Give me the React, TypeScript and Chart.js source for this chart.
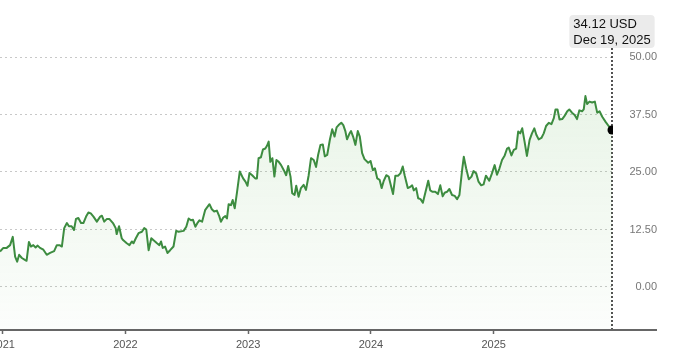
import { useEffect, useRef } from "react";
import { Chart, registerables } from "chart.js";

Chart.register(...registerables);

const dates = [
  "2020-12-24", "2021-01-03", "2021-01-13", "2021-01-23", "2021-01-31", "2021-02-07", "2021-02-13", "2021-02-19",
  "2021-02-27", "2021-03-08", "2021-03-13", "2021-03-20", "2021-03-26", "2021-04-02", "2021-04-09", "2021-04-15",
  "2021-04-22", "2021-05-02", "2021-05-12", "2021-05-22", "2021-06-03", "2021-06-11", "2021-06-19", "2021-06-26",
  "2021-07-03", "2021-07-11", "2021-07-17", "2021-07-25", "2021-08-01", "2021-08-07", "2021-08-14", "2021-08-22",
  "2021-08-29", "2021-09-06", "2021-09-13", "2021-09-20", "2021-09-28", "2021-10-08", "2021-10-18", "2021-10-23",
  "2021-10-30", "2021-11-07", "2021-11-14", "2021-11-25", "2021-12-03", "2021-12-06", "2021-12-13", "2021-12-21",
  "2021-12-25", "2022-01-05", "2022-01-13", "2022-01-20", "2022-01-25", "2022-02-01", "2022-02-09", "2022-02-19",
  "2022-02-26", "2022-03-04", "2022-03-11", "2022-03-19", "2022-03-25", "2022-04-05", "2022-04-12", "2022-04-17",
  "2022-04-22", "2022-04-29", "2022-05-06", "2022-05-14", "2022-05-24", "2022-06-01", "2022-06-08", "2022-06-23",
  "2022-07-01", "2022-07-08", "2022-07-15", "2022-07-21", "2022-07-28", "2022-08-04", "2022-08-09", "2022-08-17",
  "2022-08-26", "2022-09-02", "2022-09-08", "2022-09-15", "2022-09-22", "2022-09-30", "2022-10-07", "2022-10-12",
  "2022-10-19", "2022-10-25", "2022-10-30", "2022-11-04", "2022-11-11", "2022-11-16", "2022-11-22", "2022-11-29",
  "2022-12-07", "2022-12-17", "2022-12-24", "2022-12-30", "2023-01-05", "2023-01-13", "2023-01-22", "2023-01-27",
  "2023-02-01", "2023-02-08", "2023-02-14", "2023-02-21", "2023-02-26", "2023-03-03", "2023-03-08", "2023-03-14",
  "2023-03-20", "2023-03-26", "2023-04-02", "2023-04-09", "2023-04-17", "2023-04-24", "2023-04-30", "2023-05-07",
  "2023-05-12", "2023-05-19", "2023-05-24", "2023-05-31", "2023-06-07", "2023-06-15", "2023-06-22", "2023-06-30",
  "2023-07-07", "2023-07-15", "2023-07-22", "2023-07-28", "2023-08-04", "2023-08-11", "2023-08-17", "2023-08-24",
  "2023-09-01", "2023-09-08", "2023-09-15", "2023-09-21", "2023-09-27", "2023-10-05", "2023-10-11", "2023-10-17",
  "2023-10-22", "2023-10-29", "2023-11-03", "2023-11-09", "2023-11-16", "2023-11-23", "2023-11-29", "2023-12-06",
  "2023-12-13", "2023-12-24", "2023-12-31", "2024-01-07", "2024-01-13", "2024-01-20", "2024-01-27", "2024-02-02",
  "2024-02-08", "2024-02-16", "2024-02-23", "2024-03-02", "2024-03-07", "2024-03-14", "2024-03-22", "2024-03-29",
  "2024-04-05", "2024-04-11", "2024-04-20", "2024-04-26", "2024-05-03", "2024-05-08", "2024-05-15", "2024-05-21",
  "2024-05-28", "2024-06-04", "2024-06-12", "2024-06-20", "2024-06-26", "2024-07-03", "2024-07-11", "2024-07-19",
  "2024-07-26", "2024-08-02", "2024-08-08", "2024-08-15", "2024-08-22", "2024-08-30", "2024-09-07", "2024-09-14",
  "2024-09-21", "2024-09-29", "2024-10-04", "2024-10-11", "2024-10-19", "2024-10-27", "2024-11-02", "2024-11-10",
  "2024-11-17", "2024-11-25", "2024-12-02", "2024-12-09", "2024-12-19", "2024-12-27", "2025-01-04", "2025-01-11",
  "2025-01-18", "2025-01-26", "2025-02-03", "2025-02-10", "2025-02-15", "2025-02-23", "2025-03-02", "2025-03-09",
  "2025-03-15", "2025-03-21", "2025-03-27", "2025-04-03", "2025-04-10", "2025-04-18", "2025-04-25", "2025-05-02",
  "2025-05-08", "2025-05-15", "2025-05-23", "2025-05-30", "2025-06-06", "2025-06-14", "2025-06-22", "2025-06-29",
  "2025-07-04", "2025-07-10", "2025-07-16", "2025-07-24", "2025-07-31", "2025-08-08", "2025-08-14", "2025-08-22",
  "2025-08-30", "2025-09-06", "2025-09-13", "2025-09-21", "2025-09-26", "2025-10-01", "2025-10-06", "2025-10-13",
  "2025-10-21", "2025-10-29", "2025-11-05", "2025-11-12", "2025-11-20", "2025-11-30", "2025-12-09", "2025-12-19",
];

const prices = [
  7.7, 8.5, 8.5, 9.1, 10.9, 6.6, 5.5, 7.0,
  6.3, 5.9, 5.7, 9.8, 8.8, 9.1, 8.6, 9.0,
  8.5, 8.1, 7.0, 7.4, 7.8, 9.1, 9.1, 8.8,
  12.8, 13.9, 13.2, 13.2, 12.4, 14.8, 15.0, 13.9,
  13.9, 15.3, 16.2, 16.0, 15.3, 14.2, 15.3, 15.5,
  14.2, 14.8, 14.8, 13.9, 12.8, 11.5, 13.2, 10.6,
  10.2, 9.5, 9.1, 9.9, 9.5, 10.6, 11.7, 12.0,
  12.8, 12.5, 8.0, 10.6, 10.2, 9.5, 9.1, 9.9,
  8.5, 8.8, 7.4, 8.0, 8.8, 12.2, 12.0, 12.2,
  13.1, 14.9, 14.5, 14.6, 13.1, 14.0, 14.5, 14.2,
  16.7, 17.4, 18.0, 16.9, 16.4, 16.6, 15.4, 14.2,
  15.1, 15.4, 14.9, 18.0, 17.8, 18.9, 17.1, 20.7,
  25.1, 23.6, 22.9, 22.0, 24.8, 24.3, 23.6, 23.6,
  28.0, 28.2, 29.9, 30.1, 30.7, 31.6, 27.2, 28.0,
  24.0, 27.6, 27.2, 26.5, 25.4, 24.3, 26.3, 24.0,
  20.4, 20.0, 22.0, 19.6, 21.5, 22.2, 21.1, 24.3,
  28.0, 27.6, 26.1, 28.7, 30.9, 31.0, 28.4, 28.7,
  32.0, 34.3, 32.7, 34.7, 35.2, 35.7, 35.2, 33.9,
  32.1, 33.3, 33.9, 32.7, 30.9, 33.9, 32.7, 29.1,
  27.8, 27.0, 27.4, 25.4, 25.8, 23.6, 23.3, 21.5,
  23.0, 24.3, 24.0, 21.7, 20.2, 24.2, 24.2, 24.7,
  26.2, 24.2, 21.5, 21.7, 22.1, 21.0, 21.5, 19.3,
  19.1, 18.3, 20.7, 23.1, 21.0, 20.7, 20.7, 20.2,
  22.1, 19.7, 20.5, 20.7, 21.3, 20.0, 19.8, 19.1,
  20.0, 25.4, 28.3, 25.8, 23.4, 24.0, 25.2, 24.7,
  22.9, 22.1, 22.3, 24.2, 23.1, 24.7, 26.5, 24.4,
  25.7, 27.6, 28.6, 30.1, 30.3, 28.6, 29.8, 30.1,
  33.8, 33.4, 34.5, 31.6, 28.5, 32.0, 33.4, 34.5,
  33.1, 32.1, 32.4, 33.4, 35.0, 35.7, 35.4, 36.7,
  38.6, 38.6, 36.4, 36.5, 37.2, 38.2, 38.6, 37.9,
  37.4, 36.5, 38.4, 38.2, 38.6, 41.5, 39.8, 40.3,
  40.1, 40.3, 37.9, 38.2, 37.0, 35.9, 35.0, 34.12,
];

const yearTicks = [2021, 2022, 2023, 2024, 2025];
const priceTicks = [0, 12.5, 25, 37.5, 50];
const dateRange = ["2020-12-24", "2025-12-22"];
const priceRange = [-9.35, 50];
const currency = "USD";
const monthNames = ["Jan", "Feb", "Mar", "Apr", "May", "Jun", "Jul", "Aug", "Sep", "Oct", "Nov", "Dec"];

function toYear(s: string): number {
  const [y, m, d] = s.split("-").map(Number);
  const t0 = Date.UTC(y, 0, 1);
  const t1 = Date.UTC(y + 1, 0, 1);
  return y + (Date.UTC(y, m - 1, d) - t0) / (t1 - t0);
}

function formatDate(s: string): string {
  const [y, m, d] = s.split("-").map(Number);
  return `${monthNames[m - 1]} ${d}, ${y}`;
}

const FONT = "'Liberation Sans', Arial, Helvetica, sans-serif";

export default function App() {
  const canvasRef = useRef<HTMLCanvasElement | null>(null);

  useEffect(() => {
    const canvas = canvasRef.current;
    if (!canvas) return;
    const last = prices.length - 1;

    const overlay = {
      id: "overlay",
      beforeDatasetsDraw(chart: any) {
        const { ctx, chartArea, scales } = chart;
        const px = scales.x.getPixelForValue(toYear(dates[last]));
        ctx.save();
        ctx.strokeStyle = "#1a1a1a";
        ctx.lineWidth = 1.5;
        ctx.setLineDash([2, 2]);
        ctx.beginPath();
        ctx.moveTo(px, 48);
        ctx.lineTo(px, chartArea.bottom);
        ctx.stroke();
        ctx.restore();
      },
      afterDraw(chart: any) {
        const { ctx, chartArea, scales } = chart;
        ctx.save();
        // x axis line
        ctx.strokeStyle = "#666";
        ctx.lineWidth = 2;
        ctx.beginPath();
        ctx.moveTo(chartArea.left, chartArea.bottom);
        ctx.lineTo(scales.y.right, chartArea.bottom);
        ctx.stroke();

        // value label box
        const px = scales.x.getPixelForValue(toYear(dates[last]));
        const l1 = `${prices[last].toFixed(2)} ${currency}`;
        const l2 = formatDate(dates[last]);
        ctx.font = `13px ${FONT}`;
        const w = Math.max(ctx.measureText(l1).width, ctx.measureText(l2).width) + 8;
        const bx = px - w / 2;
        const by = 15;
        const bh = 33;
        ctx.fillStyle = "#ebebeb";
        ctx.beginPath();
        (ctx as any).roundRect(bx, by, w, bh, 4);
        ctx.fill();
        ctx.fillStyle = "#111";
        ctx.textAlign = "left";
        ctx.textBaseline = "middle";
        ctx.fillText(l1, bx + 4, by + 9.5);
        ctx.fillText(l2, bx + 4, by + 25);
        ctx.restore();
      },
    };

    const chart = new Chart(canvas, {
      type: "line",
      data: {
        datasets: [
          {
            data: dates.map((d, i) => ({ x: toYear(d), y: prices[i] })),
            borderColor: "#3d8c40",
            borderWidth: 2,
            borderJoinStyle: "round",
            tension: 0,
            fill: "start",
            backgroundColor: (c: any) => {
              const { chart: ch } = c;
              const area = ch.chartArea;
              if (!area) return "rgba(90,170,90,0.08)";
              const g = ch.ctx.createLinearGradient(0, area.top, 0, area.bottom);
              g.addColorStop(0, "rgba(100,180,90,0.16)");
              g.addColorStop(1, "rgba(100,180,90,0.02)");
              return g;
            },
            pointRadius: (c: any) => (c.dataIndex === last ? 4.5 : 0),
            pointHoverRadius: 0,
            pointBackgroundColor: "#000",
            pointBorderWidth: 0,
          },
        ],
      },
      options: {
        animation: false,
        responsive: true,
        maintainAspectRatio: false,
        events: [],
        layout: { padding: { left: 40, right: 23, top: 57, bottom: 7 } },
        plugins: { legend: { display: false }, tooltip: { enabled: false } },
        scales: {
          x: {
            type: "linear",
            min: toYear(dateRange[0]),
            max: toYear(dateRange[1]),
            afterBuildTicks: (s: any) => {
              s.ticks = yearTicks.map((v) => ({ value: v }));
            },
            afterFit: (s: any) => {
              s.height = 22;
            },
            grid: {
              display: true,
              drawOnChartArea: false,
              drawTicks: true,
              tickLength: 4,
              tickColor: "#666",
              tickWidth: 1.5,
            },
            border: { display: false },
            ticks: {
              autoSkip: false,
              maxRotation: 0,
              padding: 4,
              color: "#555",
              font: { family: FONT, size: 11 },
              callback: (v: any) => String(v),
            },
          },
          y: {
            type: "linear",
            position: "right",
            min: priceRange[0],
            max: priceRange[1],
            afterBuildTicks: (s: any) => {
              s.ticks = priceTicks.map((v) => ({ value: v }));
            },
            afterFit: (s: any) => {
              s.width = 44;
            },
            grid: {
              drawTicks: false,
              color: "#c8c8c8",
              lineWidth: 1,
            },
            border: { display: false, dash: [2, 3] },
            ticks: {
              crossAlign: "far",
              padding: 16.5,
              color: "#777",
              font: { family: FONT, size: 11 },
              callback: (v: any) => Number(v).toFixed(2),
            },
          },
        },
      },
      plugins: [overlay],
    } as any);

    return () => chart.destroy();
  }, []);

  return (
    <div style={{ position: "fixed", left: -40, top: 0, width: 720, height: 359 }}>
      <canvas ref={canvasRef} />
    </div>
  );
}
